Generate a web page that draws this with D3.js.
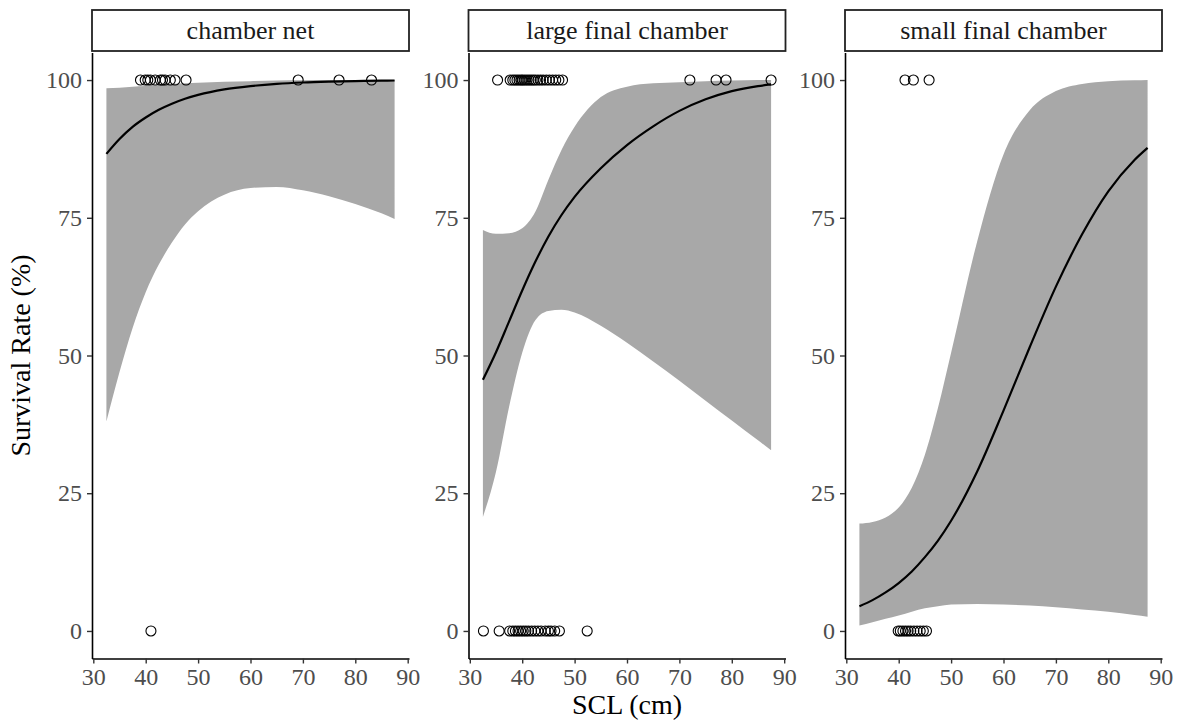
<!DOCTYPE html>
<html>
<head>
<meta charset="utf-8">
<script src="https://cdn.jsdelivr.net/npm/d3@7"></script>
<style>
  body { margin: 0; background: #fff; }
  svg { display: block; font-family: 'Liberation Serif', 'DejaVu Serif', serif; }
  .tick text { fill: #4d4d4d; font-size: 24px; font-family: 'Liberation Serif', 'DejaVu Serif', serif; }
  .tick line { stroke: #333; stroke-width: 1.4; }
  .domain { stroke: #000; stroke-width: 1.6; }
</style>
</head>
<body>
<svg id="chart" width="1179" height="722"></svg>
<script>
'use strict';

// facet labels
var panelNames = ['chamber net', 'large final chamber', 'small final chamber'];

var gridSCL = [32.5, 35, 37.5, 40, 42.5, 45, 47.5, 50, 55, 60, 65, 70, 75, 80, 85, 87.5];

// chamber net
var fitNet = [86.6, 89.3, 91.5, 93.2, 94.6, 95.7, 96.6, 97.3, 98.3, 98.9, 99.3, 99.55, 99.7, 99.8, 99.9, 99.92];
var upperNet = [98.5, 98.6, 98.8, 98.9, 99.1, 99.3, 99.4, 99.5, 99.7, 99.8, 99.9, 99.95, 100, 100, 100, 100];
var lowerNet = [38.0, 47.0, 55.0, 61.5, 66.5, 70.5, 73.8, 76.2, 79.2, 80.4, 80.6, 80.0, 78.9, 77.5, 75.8, 74.8];
var aliveNet = [39.0, 39.9, 40.4, 40.9, 41.8, 42.8, 43.2, 43.7, 44.7, 45.6, 47.7, 69.1, 76.9, 83.1];
var deadNet = [41.0];

// large final chamber
var fitLarge = [45.6, 50.6, 56.2, 61.8, 67.0, 71.6, 75.5, 78.8, 84.0, 88.2, 91.6, 94.4, 96.5, 98.0, 98.9, 99.2];
var upperLarge = [72.8, 72.1, 72.2, 73.1, 76.1, 81.9, 87.3, 91.5, 96.9, 98.8, 99.4, 99.6, 99.8, 99.9, 100, 100];
var lowerLarge = [20.7, 28.9, 40.7, 50.5, 56.4, 58.1, 58.3, 57.8, 55.4, 52.3, 48.9, 45.4, 41.8, 38.2, 34.6, 32.8];
var aliveLarge = [35.3, 37.7, 38.2, 38.6, 39.0, 39.4, 39.8, 40.1, 40.5, 40.9, 41.3, 41.7, 42.1, 42.5,
                  43.0, 43.5, 44.0, 44.6, 45.2, 45.8, 46.4, 47.0, 47.7, 72.0, 77.0, 78.9, 87.5];
var deadLarge = [32.6, 35.6, 37.6, 38.2, 38.7, 39.2, 39.7, 40.2, 40.7, 41.2, 41.8, 42.4, 43.0,
                 43.6, 44.4, 45.0, 45.5, 46.2, 47.1, 52.4];

// small final chamber
var fitSmall = [4.5, 5.6, 7.0, 8.7, 10.8, 13.4, 16.4, 20.0, 29.0, 40.0, 51.5, 62.5, 72.0, 79.8, 85.5, 87.7];
var upperSmall = [19.5, 19.8, 20.6, 22.4, 26.0, 32.0, 40.5, 50.5, 70.8, 86.5, 94.5, 98.0, 99.3, 99.8, 99.95, 100];
var lowerSmall = [1.0, 1.6, 2.2, 2.8, 3.5, 4.1, 4.5, 4.8, 4.9, 4.8, 4.6, 4.3, 3.9, 3.5, 2.9, 2.6];
var aliveSmall = [41.2, 42.8, 45.8];
var deadSmall = [39.9, 40.3, 40.8, 41.3, 41.8, 42.3, 42.9, 43.5, 44.1, 44.7, 45.3];

var xTicks = [30, 40, 50, 60, 70, 80, 90];
var yTicks = [0, 25, 50, 75, 100];

var panels = [
  {name: panelNames[0], fit: fitNet, upper: upperNet, lower: lowerNet, alive: aliveNet, dead: deadNet},
  {name: panelNames[1], fit: fitLarge, upper: upperLarge, lower: lowerLarge, alive: aliveLarge, dead: deadLarge},
  {name: panelNames[2], fit: fitSmall, upper: upperSmall, lower: lowerSmall, alive: aliveSmall, dead: deadSmall}
];

var svg = d3.select('#chart'),
    panelLeft = 92,
    panelStep = 376.5,
    panelWidth = 317,
    stripTop = 10,
    stripHeight = 41,
    plotTop = 52.5,
    plotBottom = 658.5;

var x = d3.scaleLinear().domain([29.75, 90.25]).range([0, panelWidth]),
    y = d3.scaleLinear().domain([-5, 105]).range([plotBottom, plotTop]);

/**
 * Draws one facet: band, fitted line, observed points, axes and strip.
 */
var drawPanel = function (panel, i) {
  var g,
      band,
      line,
      rows;

  g = svg.append('g')
      .attr('transform', 'translate(' + (panelLeft + i * panelStep) + ',0)');

  rows = gridSCL.map(function (s, j) {
    return {x: s, fit: panel.fit[j], lo: panel.lower[j], hi: panel.upper[j]};
  });

  band = d3.area()
      .x(function (d) { return x(d.x); })
      .y0(function (d) { return y(d.lo); })
      .y1(function (d) { return y(d.hi); })
      .curve(d3.curveMonotoneX);

  line = d3.line()
      .x(function (d) { return x(d.x); })
      .y(function (d) { return y(d.fit); })
      .curve(d3.curveMonotoneX);

  g.append('path').attr('d', band(rows)).attr('fill', '#a8a8a8');
  g.append('path').attr('d', line(rows))
      .attr('fill', 'none').attr('stroke', '#000').attr('stroke-width', 2.2);

  // observed outcomes sit at 0 or 100
  g.selectAll('circle.alive').data(panel.alive).enter().append('circle')
      .attr('class', 'alive')
      .attr('cx', function (d) { return x(d); })
      .attr('cy', y(100));
  g.selectAll('circle.dead').data(panel.dead).enter().append('circle')
      .attr('class', 'dead')
      .attr('cx', function (d) { return x(d); })
      .attr('cy', y(0));
  g.selectAll('circle')
      .attr('r', 5)
      .attr('fill', 'none')
      .attr('stroke', '#000')
      .attr('stroke-width', 1.1);

  g.append('g')
      .attr('transform', 'translate(0,' + plotBottom + ')')
      .call(d3.axisBottom(x).tickValues(xTicks).tickSize(5).tickPadding(4).tickSizeOuter(0));
  g.append('g')
      .call(d3.axisLeft(y).tickValues(yTicks).tickSize(5).tickPadding(5).tickSizeOuter(0));

  g.append('rect')
      .attr('x', 0).attr('y', stripTop)
      .attr('width', panelWidth).attr('height', stripHeight)
      .attr('fill', '#fff').attr('stroke', '#222').attr('stroke-width', 1.8);
  g.append('text')
      .attr('x', panelWidth / 2).attr('y', stripTop + stripHeight / 2 + 8)
      .attr('text-anchor', 'middle')
      .attr('font-size', 26).attr('fill', '#1a1a1a')
      .text(panel.name);
};

panels.forEach(drawPanel);

svg.append('text')
    .attr('x', panelLeft + panelStep + panelWidth / 2).attr('y', 714)
    .attr('text-anchor', 'middle').attr('font-size', 28)
    .text('SCL (cm)');

svg.append('text')
    .attr('transform', 'translate(30,' + ((plotTop + plotBottom) / 2) + ') rotate(-90)')
    .attr('text-anchor', 'middle').attr('font-size', 28)
    .text('Survival Rate (%)');
</script>
</body>
</html>
